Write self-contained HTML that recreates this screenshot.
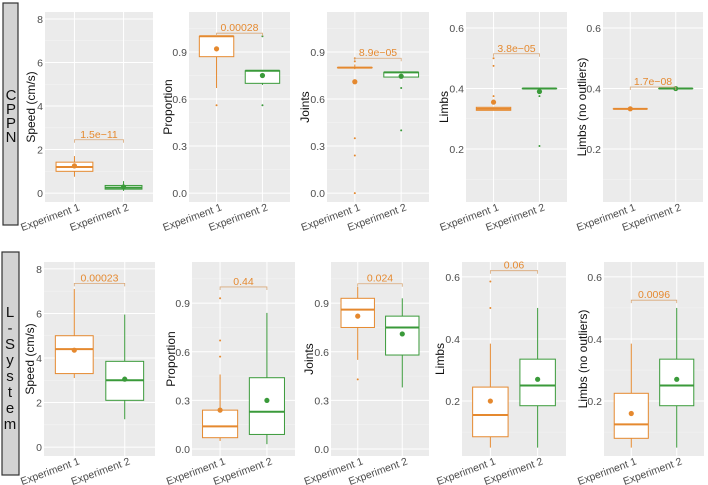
<!DOCTYPE html>
<html><head><meta charset="utf-8"><style>
body{margin:0;background:#fff}
svg{display:block;font-family:"Liberation Sans",Arial,sans-serif}
</style></head><body>
<svg id="chart" width="708" height="485" viewBox="0 0 708 485">
<rect x="3" y="3" width="15" height="222" fill="#d3d3d3" stroke="#333" stroke-width="1.2"/>
<text font-size="15" text-anchor="middle" fill="#111"><tspan x="11" y="100">C</tspan><tspan x="11" y="114">P</tspan><tspan x="11" y="128">P</tspan><tspan x="11" y="142">N</tspan></text>
<rect x="2" y="252" width="17" height="223" fill="#d3d3d3" stroke="#333" stroke-width="1.2"/>
<text font-size="15" text-anchor="middle" fill="#111"><tspan x="10" y="317">L</tspan><tspan x="10" y="333">-</tspan><tspan x="10" y="349">S</tspan><tspan x="10" y="365">y</tspan><tspan x="10" y="381">s</tspan><tspan x="10" y="397">t</tspan><tspan x="10" y="413">e</tspan><tspan x="10" y="429">m</tspan></text>
</svg>
<script>
const groups = ["Experiment 1", "Experiment 2"];
const yTitles = ["Speed (cm/s)", "Proportion", "Joints", "Limbs", "Limbs   (no outliers)"];
// stats: [lowWhisker, q1, median, q3, highWhisker, mean]
const cppnSpeed = [[0.75, 1.0, 1.2, 1.42, 1.7, 1.25], [0.1, 0.18, 0.25, 0.35, 0.55, 0.28]];
const cppnProportion = [[0.67, 0.87, 1.0, 1.0, 1.0, 0.92], [0.69, 0.7, 0.78, 0.78, 0.78, 0.75]];
const cppnJoints = [[0.79, 0.8, 0.8, 0.8, 0.82, 0.71], [0.74, 0.74, 0.77, 0.77, 0.77, 0.745]];
const cppnLimbs = [[0.328, 0.328, 0.333, 0.338, 0.338, 0.355], [0.4, 0.4, 0.4, 0.4, 0.4, 0.39]];
const cppnLimbsNo = [[0.333, 0.333, 0.333, 0.333, 0.333, 0.333], [0.4, 0.4, 0.4, 0.4, 0.4, 0.4]];
const lsysSpeed = [[3.1, 3.3, 4.4, 5.0, 7.1, 4.35], [1.25, 2.1, 3.0, 3.85, 5.95, 3.05]];
const lsysProportion = [[0.05, 0.07, 0.14, 0.24, 0.46, 0.24], [0.03, 0.09, 0.23, 0.44, 0.84, 0.30]];
const lsysJoints = [[0.55, 0.75, 0.86, 0.93, 1.0, 0.82], [0.38, 0.58, 0.75, 0.82, 0.93, 0.71]];
const lsysLimbs = [[0.05, 0.085, 0.155, 0.245, 0.385, 0.2], [0.05, 0.185, 0.25, 0.335, 0.5, 0.27]];
const lsysLimbsNo = [[0.05, 0.08, 0.125, 0.225, 0.385, 0.16], [0.05, 0.185, 0.25, 0.335, 0.5, 0.27]];
const cppnOutliers = [[[], []], [[0.56], [1.0, 0.56]], [[0.35, 0.24, 0.0, 0.84, 0.86], [0.67, 0.4]], [[0.5, 0.475, 0.375, 0.36], [0.375, 0.21]], [[], []]];
const lsysOutliers = [[[], []], [[0.57, 0.67, 0.93], []], [[0.43], []], [[0.5, 0.585], []], [[], []]];
const cppnPValues = ["1.5e\u221211", "0.00028", "8.9e\u221205", "3.8e\u221205", "1.7e\u221208"];
const lsysPValues = ["0.00023", "0.44", "0.024", "0.06", "0.0096"];
const cppnBracket = [2.45, 1.02, 0.86, 0.515, 0.405];
const lsysBracket = [7.35, 1.0, 1.02, 0.62, 0.525];
const speedTicks = [0, 2, 4, 6, 8];
const propTicks = [0.0, 0.3, 0.6, 0.9];
const limbTicks = [0.2, 0.4, 0.6];

const NS = "http://www.w3.org/2000/svg";
const svg = document.getElementById("chart");
const ORANGE = "#E5892F", GREEN = "#3A9A3A";
function mk(tag, attrs, parent) {
  const e = document.createElementNS(NS, tag);
  for (const k in attrs) e.setAttribute(k, attrs[k]);
  (parent || svg).appendChild(e);
  return e;
}
function fmt(v, ticks) {
  if (ticks === speedTicks) return String(v);
  return v.toFixed(1);
}
const titleOffset = [10, 17, 18, 18, 17];
function panel(idx, rowName, px, py, pw, ph, dom, ticks, stats, outs, pval, brY) {
  const y = v => py + ph - (v - dom[0]) / (dom[1] - dom[0]) * ph;
  const x = i => px + pw * (0.6 + i) / 2.2;
  const g = mk("g", {});
  
  
  const bg = mk("rect", {x: px, y: py, width: pw, height: ph, fill: "#EBEBEB"}, g);
  
  
  for (let k = 0; k < ticks.length + 1; k++) {
    const step = ticks[1] - ticks[0];
    const v = ticks[0] + step * (k - 0.5);
    if (v > dom[0] && v < dom[1]) mk("line", {x1: px, x2: px + pw, y1: y(v), y2: y(v), stroke: "#F5F5F5", "stroke-width": 0.5}, g);
  }
  ticks.forEach(t => {
    mk("line", {x1: px, x2: px + pw, y1: y(t), y2: y(t), stroke: "#fff", "stroke-width": 1}, g);
    const tl = mk("text", {x: px - 2, y: y(t) + 4, "font-size": 10.5, "text-anchor": "end", fill: "#4D4D4D"}, g);
    tl.textContent = fmt(t, ticks);
    
    
  });
  groups.forEach((gname, i) => {
    mk("line", {x1: x(i), x2: x(i), y1: py, y2: py + ph, stroke: "#fff", "stroke-width": 1}, g);
  });
  const tx = px - titleOffset[idx], ty = py + ph / 2;
  const yt = mk("text", {x: tx, y: ty, "font-size": 12, "text-anchor": "middle", fill: "#111", transform: `rotate(-90 ${tx} ${ty})`}, g);
  yt.textContent = yTitles[idx];
  
  
  groups.forEach((gname, i) => {
    const s = stats[i], col = i === 0 ? ORANGE : GREEN;
    const bw = pw * 0.75 / 2.2, cx = x(i);
    const bg2 = mk("g", {}, g);
    
    
    mk("line", {x1: cx, x2: cx, y1: y(s[0]), y2: y(s[1]), stroke: col, "stroke-width": 1}, bg2);
    mk("line", {x1: cx, x2: cx, y1: y(s[3]), y2: y(s[4]), stroke: col, "stroke-width": 1}, bg2);
    mk("rect", {x: cx - bw / 2, y: y(s[3]), width: bw, height: Math.max(0.01, y(s[1]) - y(s[3])), fill: "#fff", stroke: col, "stroke-width": 1}, bg2);
    mk("line", {x1: cx - bw / 2, x2: cx + bw / 2, y1: y(s[2]), y2: y(s[2]), stroke: col, "stroke-width": 2}, bg2);
    outs[i].forEach(o => {
      const c = mk("circle", {cx: cx, cy: y(o), r: 1, fill: col}, bg2);
      
      
    });
    const m = mk("circle", {cx: cx, cy: y(s[5]), r: 2.6, fill: col}, bg2);
    
    
    const lx = cx + 6, ly = py + ph + 8;
    const xl = mk("text", {x: lx, y: ly, "font-size": 10.5, "text-anchor": "end", fill: "#4D4D4D", transform: `rotate(-20 ${lx} ${ly})`}, g);
    xl.textContent = gname;
    
    
  });
  const by = y(brY);
  const br = mk("path", {d: `M${x(0)},${by + 3}V${by}H${x(1)}V${by + 3}`, fill: "none", stroke: "#D9A878", "stroke-width": 0.8}, g);
  
  
  const pl = mk("text", {x: (x(0) + x(1)) / 2, y: by - 2, "font-size": 10.5, "text-anchor": "middle", fill: ORANGE}, g);
  pl.textContent = pval;
  
  
}
const cppnStats = [cppnSpeed, cppnProportion, cppnJoints, cppnLimbs, cppnLimbsNo];
const lsysStats = [lsysSpeed, lsysProportion, lsysJoints, lsysLimbs, lsysLimbsNo];
const tickSets = [speedTicks, propTicks, propTicks, limbTicks, limbTicks];
const topX = [[45, 108], [189, 101], [327, 102], [466, 101], [603, 100]];
const botX = [[44, 111], [192, 103], [331, 98], [462, 104], [604, 100]];
const topDom = [[-0.41, 8.32], [-0.057, 1.155], [-0.057, 1.155], [0.025, 0.653], [0.025, 0.653]];
const botDom = [[-0.4, 8.31], [-0.043, 1.154], [-0.043, 1.154], [0.023, 0.648], [0.023, 0.648]];
for (let i = 0; i < 5; i++) {
  panel(i, 'cppn', topX[i][0], 12, topX[i][1], 190, topDom[i], tickSets[i], cppnStats[i], cppnOutliers[i], cppnPValues[i], cppnBracket[i]);
  panel(i, 'lsystem', botX[i][0], 262, botX[i][1], 194, botDom[i], tickSets[i], lsysStats[i], lsysOutliers[i], lsysPValues[i], lsysBracket[i]);
}
</script>
</body></html>
